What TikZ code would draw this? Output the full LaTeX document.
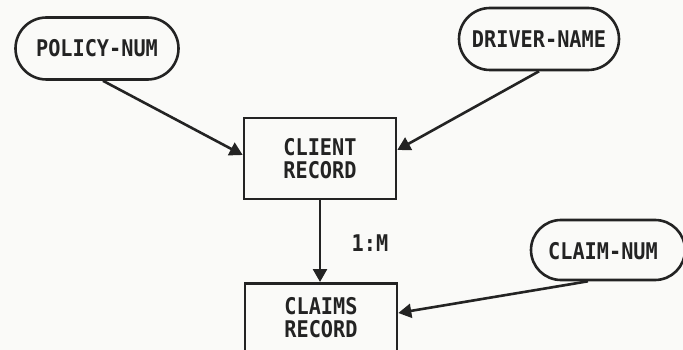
\documentclass[tikz,border=0pt]{standalone}
\usepackage{fontspec}
\setmonofont[FakeStretch=0.88]{DejaVu Sans Mono}
\usetikzlibrary{arrows.meta,shapes.misc}
\definecolor{ink}{RGB}{35,35,35}
\definecolor{paper}{RGB}{250,250,248}
\tikzset{
  plotfont/.style={font=\ttfamily\bfseries\fontsize{23}{23}\selectfont, text=ink},
  keypill/.style={rounded rectangle, draw=ink, line width=2.6pt, plotfont,
                  minimum height=62pt, inner xsep=6pt},
  recbox/.style={rectangle, draw=ink, line width=2.6pt, plotfont, align=center,
                 minimum width=152pt},
  link/.style={draw=ink, line width=2.6pt, -{Triangle[length=13pt,width=14pt]}},
}
\begin{document}
\begin{tikzpicture}[x=1pt,y=-1pt]
  % page area
  \fill[paper] (0,0) rectangle (683,350);
  \useasboundingbox (0,0) rectangle (683,350);
  \begin{scope}
    \clip (0,0) rectangle (683,350);

    % key fields
    \node[keypill, minimum width=175pt] (pol) at (97,48.5) {POLICY-NUM};
    \node[keypill, minimum width=172pt] (drv) at (539,39) {DRIVER-NAME};
    \node[keypill, minimum width=166pt, minimum height=60pt] (clm) at (608,250) {};
    \node[plotfont] (clmtext) at (603,251) {CLAIM-NUM};

    % records
    \node[recbox, minimum height=81pt] (client) at (320,158.5) {CLIENT\\RECORD};
    \node[recbox, anchor=north, inner ysep=14pt, text depth=70pt] (claims) at (321,282) {CLAIMS\\RECORD};

    % relationship label
    \node[plotfont] (card) at (370,243) {1:M};

    % connectors
    \draw[link] ([xshift=6pt]pol.south) -- ([yshift=3.5pt]client.west);
    \draw[link] (drv.south) -- ([yshift=8.5pt]client.east);
    \draw[link] (client.south) -- (client.south |- claims.north);
    \draw[link] ([xshift=-20pt]clm.south) -- ([yshift=-31pt]claims.north east);
  \end{scope}
\end{tikzpicture}
\end{document}
